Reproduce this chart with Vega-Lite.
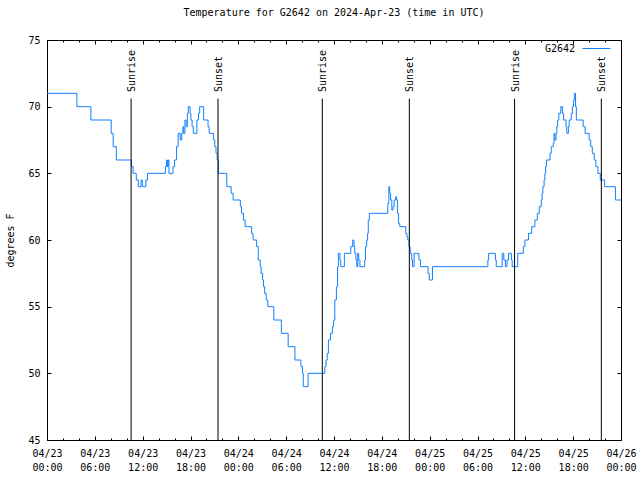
{
 "$schema": "https://vega.github.io/schema/vega-lite/v6.json",
 "width": 574, "height": 400,
 "autosize": {"type": "none"},
 "padding": {"left": 47, "top": 40, "right": 19, "bottom": 40},
 "background": "white",
 "title": {"text": "Temperature for G2642 on 2024-Apr-23 (time in UTC)", "font": "DejaVu Sans Mono", "fontSize": 10, "fontWeight": "normal", "color": "black", "offset": 16, "anchor": "middle"},
 "config": {
  "view": {"stroke": "black", "strokeWidth": 1},
  "axis": {"labelFont": "DejaVu Sans Mono", "labelFontSize": 10, "labelColor": "black", "titleFont": "DejaVu Sans Mono", "titleFontSize": 10, "titleFontWeight": "normal", "titleColor": "black", "grid": false, "domain": false, "tickColor": "black", "tickWidth": 1}
 },
 "datasets": {
  "temps": [
   {"t": "2024-04-23T00:00Z", "temp": 71},
   {"t": "2024-04-23T03:45Z", "temp": 70},
   {"t": "2024-04-23T05:30Z", "temp": 69},
   {"t": "2024-04-23T08:03Z", "temp": 68},
   {"t": "2024-04-23T08:18Z", "temp": 67},
   {"t": "2024-04-23T08:42Z", "temp": 66},
   {"t": "2024-04-23T10:36Z", "temp": 65.5},
   {"t": "2024-04-23T10:48Z", "temp": 65},
   {"t": "2024-04-23T11:12Z", "temp": 64.5},
   {"t": "2024-04-23T11:27Z", "temp": 64},
   {"t": "2024-04-23T11:48Z", "temp": 64.5},
   {"t": "2024-04-23T11:57Z", "temp": 64},
   {"t": "2024-04-23T12:24Z", "temp": 64.5},
   {"t": "2024-04-23T12:36Z", "temp": 65},
   {"t": "2024-04-23T14:51Z", "temp": 65.5},
   {"t": "2024-04-23T15:00Z", "temp": 66},
   {"t": "2024-04-23T15:06Z", "temp": 65.5},
   {"t": "2024-04-23T15:12Z", "temp": 66},
   {"t": "2024-04-23T15:18Z", "temp": 65},
   {"t": "2024-04-23T15:48Z", "temp": 65.5},
   {"t": "2024-04-23T16:00Z", "temp": 66},
   {"t": "2024-04-23T16:15Z", "temp": 67},
   {"t": "2024-04-23T16:27Z", "temp": 68},
   {"t": "2024-04-23T16:42Z", "temp": 67.5},
   {"t": "2024-04-23T16:54Z", "temp": 68},
   {"t": "2024-04-23T17:03Z", "temp": 68.5},
   {"t": "2024-04-23T17:09Z", "temp": 68},
   {"t": "2024-04-23T17:18Z", "temp": 69},
   {"t": "2024-04-23T17:27Z", "temp": 68.5},
   {"t": "2024-04-23T17:36Z", "temp": 69.5},
   {"t": "2024-04-23T17:43Z", "temp": 70},
   {"t": "2024-04-23T17:57Z", "temp": 69.5},
   {"t": "2024-04-23T18:03Z", "temp": 69},
   {"t": "2024-04-23T18:12Z", "temp": 68.5},
   {"t": "2024-04-23T18:21Z", "temp": 68},
   {"t": "2024-04-23T18:48Z", "temp": 69},
   {"t": "2024-04-23T19:00Z", "temp": 69.5},
   {"t": "2024-04-23T19:09Z", "temp": 70},
   {"t": "2024-04-23T19:39Z", "temp": 69},
   {"t": "2024-04-23T20:12Z", "temp": 68.5},
   {"t": "2024-04-23T20:21Z", "temp": 68},
   {"t": "2024-04-23T20:54Z", "temp": 67.5},
   {"t": "2024-04-23T21:03Z", "temp": 67},
   {"t": "2024-04-23T21:12Z", "temp": 66.5},
   {"t": "2024-04-23T21:21Z", "temp": 66},
   {"t": "2024-04-23T21:30Z", "temp": 65},
   {"t": "2024-04-23T22:33Z", "temp": 64},
   {"t": "2024-04-23T23:06Z", "temp": 63.5},
   {"t": "2024-04-23T23:21Z", "temp": 63},
   {"t": "2024-04-24T00:15Z", "temp": 62.5},
   {"t": "2024-04-24T00:24Z", "temp": 62},
   {"t": "2024-04-24T00:39Z", "temp": 61.5},
   {"t": "2024-04-24T00:51Z", "temp": 61},
   {"t": "2024-04-24T01:40Z", "temp": 60.5},
   {"t": "2024-04-24T01:51Z", "temp": 60},
   {"t": "2024-04-24T02:18Z", "temp": 59.5},
   {"t": "2024-04-24T02:30Z", "temp": 58.5},
   {"t": "2024-04-24T02:45Z", "temp": 58},
   {"t": "2024-04-24T02:51Z", "temp": 57.5},
   {"t": "2024-04-24T03:03Z", "temp": 57},
   {"t": "2024-04-24T03:09Z", "temp": 56.5},
   {"t": "2024-04-24T03:18Z", "temp": 56},
   {"t": "2024-04-24T03:30Z", "temp": 55.5},
   {"t": "2024-04-24T03:42Z", "temp": 55},
   {"t": "2024-04-24T04:27Z", "temp": 54},
   {"t": "2024-04-24T05:24Z", "temp": 53},
   {"t": "2024-04-24T06:15Z", "temp": 52},
   {"t": "2024-04-24T07:06Z", "temp": 51},
   {"t": "2024-04-24T07:51Z", "temp": 50.5},
   {"t": "2024-04-24T08:03Z", "temp": 50},
   {"t": "2024-04-24T08:09Z", "temp": 49},
   {"t": "2024-04-24T08:45Z", "temp": 50},
   {"t": "2024-04-24T10:51Z", "temp": 50.5},
   {"t": "2024-04-24T11:00Z", "temp": 51},
   {"t": "2024-04-24T11:09Z", "temp": 51.5},
   {"t": "2024-04-24T11:18Z", "temp": 52.5},
   {"t": "2024-04-24T11:33Z", "temp": 53},
   {"t": "2024-04-24T11:48Z", "temp": 53.5},
   {"t": "2024-04-24T11:57Z", "temp": 54},
   {"t": "2024-04-24T12:06Z", "temp": 55.5},
   {"t": "2024-04-24T12:18Z", "temp": 56.5},
   {"t": "2024-04-24T12:27Z", "temp": 58},
   {"t": "2024-04-24T12:33Z", "temp": 59},
   {"t": "2024-04-24T12:45Z", "temp": 58.5},
   {"t": "2024-04-24T12:51Z", "temp": 58},
   {"t": "2024-04-24T13:18Z", "temp": 59},
   {"t": "2024-04-24T14:06Z", "temp": 59.5},
   {"t": "2024-04-24T14:21Z", "temp": 60},
   {"t": "2024-04-24T14:30Z", "temp": 59.5},
   {"t": "2024-04-24T14:36Z", "temp": 59},
   {"t": "2024-04-24T14:45Z", "temp": 58.5},
   {"t": "2024-04-24T14:51Z", "temp": 58},
   {"t": "2024-04-24T14:59Z", "temp": 59},
   {"t": "2024-04-24T15:06Z", "temp": 58.5},
   {"t": "2024-04-24T15:15Z", "temp": 58},
   {"t": "2024-04-24T15:51Z", "temp": 58.5},
   {"t": "2024-04-24T15:57Z", "temp": 59.5},
   {"t": "2024-04-24T16:06Z", "temp": 60},
   {"t": "2024-04-24T16:13Z", "temp": 60.5},
   {"t": "2024-04-24T16:18Z", "temp": 61.5},
   {"t": "2024-04-24T16:26Z", "temp": 62},
   {"t": "2024-04-24T18:45Z", "temp": 62.75},
   {"t": "2024-04-24T18:53Z", "temp": 64},
   {"t": "2024-04-24T18:59Z", "temp": 63.5},
   {"t": "2024-04-24T19:06Z", "temp": 63},
   {"t": "2024-04-24T19:15Z", "temp": 62.25},
   {"t": "2024-04-24T19:24Z", "temp": 62.5},
   {"t": "2024-04-24T19:33Z", "temp": 63},
   {"t": "2024-04-24T19:45Z", "temp": 63.25},
   {"t": "2024-04-24T19:51Z", "temp": 63},
   {"t": "2024-04-24T19:57Z", "temp": 62},
   {"t": "2024-04-24T20:06Z", "temp": 61.25},
   {"t": "2024-04-24T20:15Z", "temp": 61},
   {"t": "2024-04-24T21:00Z", "temp": 60.5},
   {"t": "2024-04-24T21:09Z", "temp": 60.25},
   {"t": "2024-04-24T21:15Z", "temp": 60},
   {"t": "2024-04-24T21:24Z", "temp": 59.5},
   {"t": "2024-04-24T21:33Z", "temp": 59},
   {"t": "2024-04-24T21:45Z", "temp": 58.5},
   {"t": "2024-04-24T21:51Z", "temp": 58},
   {"t": "2024-04-24T22:03Z", "temp": 59},
   {"t": "2024-04-24T22:39Z", "temp": 58.5},
   {"t": "2024-04-24T22:51Z", "temp": 58},
   {"t": "2024-04-24T23:48Z", "temp": 57.5},
   {"t": "2024-04-24T23:57Z", "temp": 57},
   {"t": "2024-04-25T00:21Z", "temp": 58},
   {"t": "2024-04-25T07:18Z", "temp": 58.5},
   {"t": "2024-04-25T07:24Z", "temp": 59},
   {"t": "2024-04-25T08:15Z", "temp": 58.5},
   {"t": "2024-04-25T08:21Z", "temp": 58},
   {"t": "2024-04-25T09:06Z", "temp": 59},
   {"t": "2024-04-25T09:18Z", "temp": 58.5},
   {"t": "2024-04-25T09:30Z", "temp": 58},
   {"t": "2024-04-25T09:42Z", "temp": 58.5},
   {"t": "2024-04-25T09:54Z", "temp": 59},
   {"t": "2024-04-25T10:15Z", "temp": 58.5},
   {"t": "2024-04-25T10:21Z", "temp": 58},
   {"t": "2024-04-25T11:03Z", "temp": 59},
   {"t": "2024-04-25T11:45Z", "temp": 59.5},
   {"t": "2024-04-25T11:57Z", "temp": 60},
   {"t": "2024-04-25T12:24Z", "temp": 60.5},
   {"t": "2024-04-25T12:48Z", "temp": 61},
   {"t": "2024-04-25T13:12Z", "temp": 61.5},
   {"t": "2024-04-25T13:30Z", "temp": 62},
   {"t": "2024-04-25T13:45Z", "temp": 62.5},
   {"t": "2024-04-25T14:00Z", "temp": 63},
   {"t": "2024-04-25T14:06Z", "temp": 63.5},
   {"t": "2024-04-25T14:12Z", "temp": 64},
   {"t": "2024-04-25T14:21Z", "temp": 64.5},
   {"t": "2024-04-25T14:27Z", "temp": 65},
   {"t": "2024-04-25T14:33Z", "temp": 65.5},
   {"t": "2024-04-25T14:39Z", "temp": 66},
   {"t": "2024-04-25T15:06Z", "temp": 66.5},
   {"t": "2024-04-25T15:15Z", "temp": 67},
   {"t": "2024-04-25T15:30Z", "temp": 67.25},
   {"t": "2024-04-25T15:36Z", "temp": 68},
   {"t": "2024-04-25T15:42Z", "temp": 67.5},
   {"t": "2024-04-25T15:51Z", "temp": 68},
   {"t": "2024-04-25T15:57Z", "temp": 68.5},
   {"t": "2024-04-25T16:03Z", "temp": 69},
   {"t": "2024-04-25T16:12Z", "temp": 69.5},
   {"t": "2024-04-25T16:27Z", "temp": 70},
   {"t": "2024-04-25T16:39Z", "temp": 69.5},
   {"t": "2024-04-25T16:48Z", "temp": 69},
   {"t": "2024-04-25T17:06Z", "temp": 68.5},
   {"t": "2024-04-25T17:12Z", "temp": 68},
   {"t": "2024-04-25T17:24Z", "temp": 68.5},
   {"t": "2024-04-25T17:30Z", "temp": 69},
   {"t": "2024-04-25T17:45Z", "temp": 69.5},
   {"t": "2024-04-25T17:54Z", "temp": 70},
   {"t": "2024-04-25T18:03Z", "temp": 70.5},
   {"t": "2024-04-25T18:09Z", "temp": 71},
   {"t": "2024-04-25T18:18Z", "temp": 70},
   {"t": "2024-04-25T18:24Z", "temp": 69},
   {"t": "2024-04-25T19:15Z", "temp": 68.5},
   {"t": "2024-04-25T19:30Z", "temp": 68},
   {"t": "2024-04-25T20:00Z", "temp": 67.5},
   {"t": "2024-04-25T20:12Z", "temp": 67},
   {"t": "2024-04-25T20:24Z", "temp": 66.5},
   {"t": "2024-04-25T20:39Z", "temp": 66},
   {"t": "2024-04-25T20:51Z", "temp": 65.5},
   {"t": "2024-04-25T21:06Z", "temp": 65},
   {"t": "2024-04-25T21:24Z", "temp": 64.5},
   {"t": "2024-04-25T21:57Z", "temp": 64},
   {"t": "2024-04-25T23:18Z", "temp": 63},
   {"t": "2024-04-26T00:00Z", "temp": 63}
  ],
  "sun": [
   {"t": "2024-04-23T10:33Z", "label": "Sunrise"},
   {"t": "2024-04-23T21:27Z", "label": "Sunset"},
   {"t": "2024-04-24T10:32Z", "label": "Sunrise"},
   {"t": "2024-04-24T21:27Z", "label": "Sunset"},
   {"t": "2024-04-25T10:39Z", "label": "Sunrise"},
   {"t": "2024-04-25T21:32Z", "label": "Sunset"}
  ]
 },
 "resolve": {"axis": {"x": "independent", "y": "independent"}},
 "layer": [
  {
   "data": {"name": "temps"},
   "mark": {"type": "line", "interpolate": "step-after", "strokeWidth": 1},
   "encoding": {
    "x": {"field": "t", "type": "temporal", "scale": {"type": "utc", "domain": [1713830400000, 1714089600000]},
     "axis": {"orient": "bottom", "values": [1713830400000, 1713852000000, 1713873600000, 1713895200000, 1713916800000, 1713938400000, 1713960000000, 1713981600000, 1714003200000, 1714024800000, 1714046400000, 1714068000000, 1714089600000],
      "ticks": false, "labelExpr": "[utcFormat(datum.value, '%m/%d'), utcFormat(datum.value, '%H:%M')]", "labelPadding": 8, "labelLineHeight": 14, "title": null, "labelFlush": false, "labelOverlap": false}},
    "y": {"field": "temp", "type": "quantitative", "scale": {"domain": [45, 75], "nice": false, "zero": false},
     "axis": {"orient": "left", "values": [45, 50, 55, 60, 65, 70, 75], "ticks": false, "labelPadding": 7, "title": "degrees F", "titlePadding": 12}},
    "color": {"datum": "G2642", "type": "nominal", "scale": {"range": ["#1080ff"]},
     "legend": {"title": null, "orient": "none", "legendX": 535, "legendY": -6, "symbolType": "stroke", "symbolSize": 784, "symbolStrokeWidth": 1, "labelAlign": "right", "labelOffset": -36, "labelFont": "DejaVu Sans Mono", "labelFontSize": 10, "labelColor": "black", "padding": 0}}
   }
  },
  {
   "data": {"name": "sun"},
   "mark": {"type": "rule", "color": "black", "strokeWidth": 1},
   "encoding": {
    "x": {"field": "t", "type": "temporal", "axis": {"orient": "bottom", "values": [1713830400000, 1713852000000, 1713873600000, 1713895200000, 1713916800000, 1713938400000, 1713960000000, 1713981600000, 1714003200000, 1714024800000, 1714046400000, 1714068000000, 1714089600000], "labels": false, "tickSize": -4, "title": null}},
    "y": {"datum": 45, "type": "quantitative", "axis": {"orient": "right", "values": [45, 50, 55, 60, 65, 70, 75], "labels": false, "tickSize": -4, "title": null}},
    "y2": {"datum": 70.6}
   }
  },
  {
   "data": {"name": "sun"},
   "mark": {"type": "text", "angle": 270, "align": "left", "baseline": "middle", "dy": 1, "font": "DejaVu Sans Mono", "fontSize": 10, "color": "black"},
   "encoding": {
    "x": {"field": "t", "type": "temporal", "axis": {"orient": "top", "values": [1713830400000, 1713852000000, 1713873600000, 1713895200000, 1713916800000, 1713938400000, 1713960000000, 1713981600000, 1714003200000, 1714024800000, 1714046400000, 1714068000000, 1714089600000], "labels": false, "tickSize": -4, "title": null}},
    "y": {"datum": 71.1, "type": "quantitative", "axis": {"orient": "left", "values": [45, 50, 55, 60, 65, 70, 75], "labels": false, "tickSize": -4, "title": null}},
    "text": {"field": "label"}
   }
  },
  {
   "data": {"name": "sun"},
   "mark": {"type": "rule", "opacity": 0},
   "encoding": {
    "x": {"field": "t", "type": "temporal", "axis": {"orient": "bottom", "values": [1713830400000, 1713837600000, 1713844800000, 1713852000000, 1713859200000, 1713866400000, 1713873600000, 1713880800000, 1713888000000, 1713895200000, 1713902400000, 1713909600000, 1713916800000, 1713924000000, 1713931200000, 1713938400000, 1713945600000, 1713952800000, 1713960000000, 1713967200000, 1713974400000, 1713981600000, 1713988800000, 1713996000000, 1714003200000, 1714010400000, 1714017600000, 1714024800000, 1714032000000, 1714039200000, 1714046400000, 1714053600000, 1714060800000, 1714068000000, 1714075200000, 1714082400000, 1714089600000], "labels": false, "tickSize": -2, "title": null}}
   }
  },
  {
   "data": {"name": "sun"},
   "mark": {"type": "rule", "opacity": 0},
   "encoding": {
    "x": {"field": "t", "type": "temporal", "axis": {"orient": "top", "values": [1713830400000, 1713837600000, 1713844800000, 1713852000000, 1713859200000, 1713866400000, 1713873600000, 1713880800000, 1713888000000, 1713895200000, 1713902400000, 1713909600000, 1713916800000, 1713924000000, 1713931200000, 1713938400000, 1713945600000, 1713952800000, 1713960000000, 1713967200000, 1713974400000, 1713981600000, 1713988800000, 1713996000000, 1714003200000, 1714010400000, 1714017600000, 1714024800000, 1714032000000, 1714039200000, 1714046400000, 1714053600000, 1714060800000, 1714068000000, 1714075200000, 1714082400000, 1714089600000], "labels": false, "tickSize": -2, "title": null}}
   }
  }
 ]
}
